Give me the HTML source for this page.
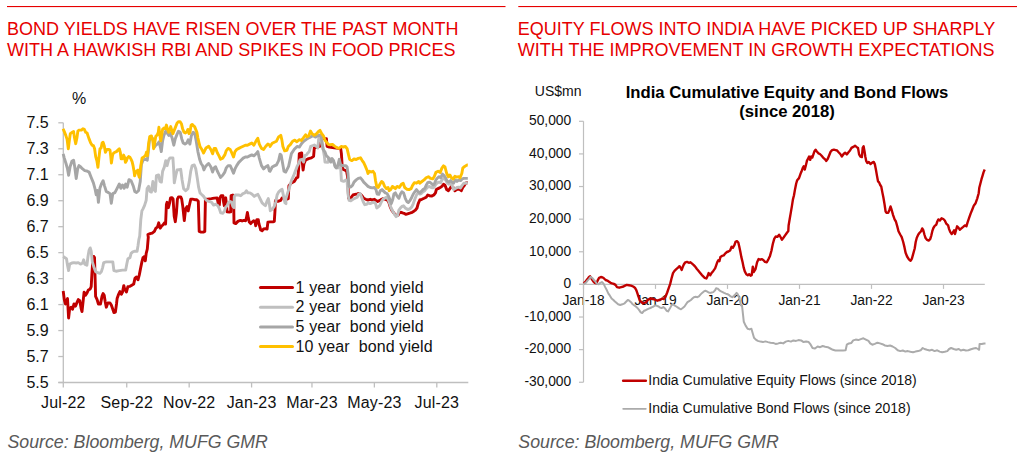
<!DOCTYPE html><html><head><meta charset="utf-8"><title>India bond yields and equity flows</title><style>
html,body{margin:0;padding:0;background:#fff}
body{width:1022px;height:464px;position:relative;overflow:hidden;font-family:"Liberation Sans",sans-serif;color:#111}
.t{position:absolute;white-space:pre;line-height:1;margin-top:-0.8465em}
  .h{font-size:18px;color:#e60000;line-height:21.1px;margin-top:0}
.a16{font-size:16px}
.a14{font-size:14px}
.src{font-size:17.75px;font-style:italic;color:#595959}
.ct{font-size:16.7px;font-weight:bold;color:#000;text-align:center;line-height:19.3px;margin-top:0}

</style></head><body>
<svg width="1022" height="464" viewBox="0 0 1022 464" style="position:absolute;left:0;top:0;z-index:2">
<rect x="7" y="6" width="498.5" height="1.1" fill="#e60000"/>
<rect x="518.3" y="6" width="498.7" height="1.1" fill="#e60000"/>
<g stroke="#bfbfbf" stroke-width="1.3" fill="none">
<path d="M63.3,122.8 V382.5"/>
<path d="M58.3,382.5 H468.3"/>
<path d="M58.3,122.80 H63.3"/>
<path d="M58.3,148.77 H63.3"/>
<path d="M58.3,174.74 H63.3"/>
<path d="M58.3,200.71 H63.3"/>
<path d="M58.3,226.68 H63.3"/>
<path d="M58.3,252.65 H63.3"/>
<path d="M58.3,278.62 H63.3"/>
<path d="M58.3,304.59 H63.3"/>
<path d="M58.3,330.56 H63.3"/>
<path d="M58.3,356.53 H63.3"/>
<path d="M58.3,382.50 H63.3"/>
<path d="M63.30,382.5 v5"/>
<path d="M126.74,382.5 v5"/>
<path d="M189.17,382.5 v5"/>
<path d="M251.59,382.5 v5"/>
<path d="M311.96,382.5 v5"/>
<path d="M374.38,382.5 v5"/>
<path d="M436.80,382.5 v5"/>
</g>
<g fill="none" stroke-linejoin="round" stroke-linecap="butt" stroke-width="2.9">
<path stroke="#c00000" d="M63.2,291.0 L64.3,299.6 L65.4,304.0 L66.5,300.7 L67.5,298.6 L68.6,318.0 L69.7,308.3 L71.2,307.2 L72.5,309.3 L74.0,304.0 L75.5,306.1 L76.8,302.9 L78.3,299.6 L79.8,300.7 L81.1,308.3 L82.0,311.5 L83.3,299.6 L84.1,292.1 L85.4,295.3 L86.9,293.2 L88.4,289.9 L90.2,288.9 L91.2,286.7 L91.9,273.8 L92.8,260.9 L93.8,256.5 L94.5,257.6 L95.1,278.1 L95.6,296.4 L97.1,299.6 L98.4,304.0 L100.5,304.0 L102.0,296.4 L103.1,293.6 L104.2,295.3 L105.2,301.8 L106.3,307.2 L107.8,302.9 L110.0,302.9 L111.3,305.0 L112.8,309.3 L113.9,312.6 L115.4,312.1 L116.5,304.0 L117.1,298.6 L118.6,294.3 L119.9,291.5 L121.4,294.3 L122.5,292.1 L123.8,285.6 L124.6,288.9 L126.4,292.1 L127.9,286.7 L130.0,286.3 L132.2,285.0 L133.7,284.1 L135.0,278.1 L136.5,277.0 L138.0,279.8 L139.3,274.9 L140.8,267.3 L141.9,261.9 L143.0,257.6 L144.5,256.5 L145.3,260.9 L146.2,253.3 L147.3,249.0 L148.3,237.2 L147.9,234.6 L150.1,233.6 L152.2,233.1 L154.4,231.4 L155.9,228.2 L157.4,227.1 L158.7,222.8 L160.2,228.2 L161.7,226.0 L163.0,224.9 L164.5,222.8 L165.6,223.9 L166.4,204.5 L167.1,202.3 L168.4,207.7 L169.5,203.4 L170.5,198.0 L172.0,197.6 L173.1,199.1 L174.2,216.3 L175.3,221.7 L176.4,213.1 L177.4,199.1 L178.5,196.9 L180.7,196.9 L181.7,199.1 L182.8,206.6 L184.3,220.6 L185.6,208.8 L187.1,206.6 L188.2,210.9 L189.3,205.6 L190.8,199.1 L192.5,199.1 L194.7,199.7 L196.8,199.7 L198.3,201.2 L199.2,231.4 L201.1,232.1 L203.3,232.1 L204.8,231.4 L205.4,200.2 L205.7,199.3 L208.6,199.0 L211.4,198.6 L214.3,198.1 L217.1,197.9 L218.3,203.6 L219.3,205.0 L220.0,197.9 L221.1,195.7 L222.9,195.7 L223.6,202.1 L224.3,205.7 L225.0,198.6 L225.7,197.9 L226.4,203.6 L227.1,211.9 L229.3,212.1 L230.7,211.9 L231.1,195.7 L232.9,195.0 L233.6,195.7 L234.0,222.9 L235.7,223.6 L237.9,221.4 L239.3,220.7 L240.7,220.4 L242.1,221.0 L243.6,220.4 L245.7,220.7 L246.4,217.9 L247.4,212.4 L248.3,217.9 L249.3,222.1 L250.7,223.6 L252.1,222.1 L253.6,220.7 L255.0,221.4 L255.7,225.7 L256.9,219.6 L258.3,219.6 L258.9,223.6 L259.7,226.4 L260.7,230.0 L262.1,230.7 L263.6,229.0 L265.7,228.6 L267.1,229.0 L267.9,222.1 L270.0,221.9 L272.9,221.9 L274.3,221.4 L275.0,210.7 L275.4,200.7 L277.9,201.4 L280.7,200.4 L282.1,197.9 L284.3,197.6 L286.0,197.6 L286.4,199.3 L288.3,198.6 L288.9,185.7 L291.4,182.9 L294.3,181.4 L296.4,177.9 L297.9,177.1 L298.6,169.3 L299.3,153.6 L301.7,152.9 L302.1,160.7 L303.1,170.0 L304.0,163.6 L305.7,160.0 L308.6,158.6 L311.4,157.9 L313.6,156.4 L314.3,147.9 L317.1,147.1 L319.7,146.4 L320.7,140.7 L321.4,138.6 L324.3,138.6 L326.4,138.6 L327.1,146.4 L329.3,147.1 L334.3,147.9 L340.7,148.6 L341.4,153.6 L342.1,165.0 L342.9,169.3 L346.0,170.7 L346.5,170.7 L347.6,176.7 L348.6,198.3 L350.2,199.3 L351.4,197.2 L353.0,195.0 L355.1,194.4 L357.3,194.0 L358.8,193.5 L360.5,194.4 L362.2,196.1 L363.7,198.3 L365.9,199.3 L368.0,200.0 L370.2,199.3 L372.3,200.0 L374.5,199.3 L376.0,200.4 L377.7,201.5 L379.9,200.4 L381.6,199.3 L383.1,198.7 L385.3,199.3 L387.4,200.0 L388.9,202.6 L390.2,206.9 L391.7,210.1 L393.2,212.3 L395.0,214.4 L396.7,215.5 L398.2,215.1 L399.3,212.9 L401.0,212.3 L402.5,212.9 L404.0,213.3 L405.7,214.4 L407.5,213.8 L409.0,213.3 L410.5,212.9 L412.2,212.3 L413.9,211.2 L415.4,210.1 L417.0,208.0 L418.2,203.6 L419.8,200.0 L421.9,199.3 L424.1,198.3 L426.2,197.2 L427.7,195.0 L429.4,195.7 L431.6,196.1 L433.8,195.0 L435.5,192.9 L436.3,189.6 L438.1,188.6 L440.2,187.5 L441.9,186.4 L443.5,184.3 L445.0,185.3 L446.7,189.6 L448.4,190.7 L449.9,188.6 L451.4,186.4 L453.2,187.5 L454.9,190.7 L456.6,189.6 L458.5,189.2 L460.0,189.6 L461.3,190.7 L462.8,187.5 L464.4,185.3 L465.6,183.2 L467.2,182.7 L467.8,182.7"/>
<path stroke="#bfbfbf" d="M63.2,256.5 L64.7,257.6 L66.5,258.7 L67.5,265.2 L68.6,270.6 L69.7,264.1 L71.9,263.0 L74.0,262.6 L76.2,263.0 L78.3,262.6 L80.5,264.1 L82.6,263.0 L83.7,259.8 L84.8,264.1 L86.9,265.2 L88.0,256.5 L89.1,250.1 L90.2,247.9 L91.2,251.2 L92.3,261.9 L94.0,267.3 L95.6,271.6 L97.7,272.7 L99.9,273.4 L101.4,271.6 L102.7,267.3 L103.7,262.6 L106.3,261.9 L109.6,261.9 L112.8,261.9 L113.9,270.6 L116.0,271.2 L119.3,270.6 L122.5,270.1 L125.7,270.1 L126.8,264.1 L127.9,258.7 L130.0,257.6 L131.1,253.3 L132.8,251.8 L135.0,251.2 L137.1,251.2 L138.0,245.8 L138.9,239.3 L139.7,236.1 L140.8,219.6 L141.9,210.9 L143.0,208.8 L144.5,205.6 L146.2,200.2 L147.1,188.6 L148.6,186.4 L150.0,191.4 L151.4,192.1 L152.9,181.4 L154.3,190.0 L155.4,191.4 L156.4,175.7 L158.6,175.0 L160.0,181.4 L161.4,182.1 L162.6,171.4 L164.3,167.1 L165.7,160.7 L167.1,165.7 L168.6,160.0 L170.0,157.9 L172.9,157.9 L173.6,168.6 L174.3,182.9 L175.7,175.7 L177.1,170.0 L180.7,169.3 L182.1,180.0 L183.6,188.6 L185.7,190.7 L187.9,188.6 L189.3,181.4 L190.7,171.4 L192.1,165.7 L194.3,165.0 L195.7,168.6 L197.1,177.1 L198.6,187.1 L200.0,192.9 L201.4,194.3 L203.6,196.4 L206.0,200.0 L208.6,201.4 L211.4,202.1 L213.6,205.0 L215.7,204.3 L217.9,205.7 L219.3,208.6 L220.7,212.9 L222.9,213.3 L224.6,210.7 L225.7,207.1 L227.1,205.7 L228.3,202.9 L229.7,201.4 L231.4,202.1 L232.9,206.4 L234.0,207.6 L234.3,196.4 L235.4,195.0 L238.6,195.0 L240.7,195.7 L242.9,193.6 L245.0,192.9 L246.4,190.7 L247.9,192.9 L250.0,192.9 L252.1,194.3 L254.3,196.4 L256.4,195.0 L257.9,194.3 L259.3,197.1 L260.7,200.0 L262.1,202.9 L263.6,204.3 L265.4,205.7 L266.9,201.4 L268.3,198.6 L269.3,203.6 L270.3,210.7 L272.1,209.3 L274.3,206.4 L275.7,202.1 L277.1,195.0 L278.6,192.1 L280.7,190.0 L282.1,189.3 L283.6,196.4 L285.0,202.9 L286.0,203.6 L285.7,199.3 L287.4,193.6 L289.3,187.9 L291.4,180.7 L293.6,175.7 L295.0,172.1 L297.1,166.4 L298.6,163.6 L300.0,160.0 L302.1,159.3 L303.6,162.1 L304.6,155.7 L306.4,155.0 L307.9,152.9 L309.3,151.4 L310.7,146.4 L312.9,145.7 L314.3,145.0 L316.4,146.4 L317.9,147.9 L318.6,139.3 L319.7,135.7 L320.7,137.9 L321.7,143.6 L322.9,147.9 L324.3,155.7 L325.0,162.1 L327.9,162.4 L328.6,157.9 L330.7,159.3 L332.9,160.7 L334.3,163.6 L335.7,167.1 L337.9,167.9 L339.3,165.0 L340.7,167.9 L341.4,180.7 L343.6,181.4 L346.0,180.0 L347.1,181.5 L348.0,194.0 L349.1,200.4 L350.8,200.8 L353.0,199.3 L355.1,198.3 L357.3,197.2 L358.8,194.0 L360.1,193.5 L361.6,197.2 L363.1,201.5 L364.8,204.7 L366.5,204.3 L368.0,203.0 L370.2,203.6 L372.3,202.6 L373.9,202.1 L375.6,203.6 L376.7,208.0 L378.4,206.9 L379.9,205.2 L381.6,201.5 L383.1,199.3 L384.6,198.3 L386.4,197.2 L388.1,199.3 L389.6,203.6 L391.1,208.0 L392.8,211.2 L394.5,214.4 L396.1,216.6 L397.6,215.5 L398.9,210.1 L400.4,208.0 L401.9,206.4 L403.6,205.8 L405.3,208.0 L406.8,209.0 L408.3,209.5 L410.1,208.6 L411.8,206.9 L413.3,203.6 L414.8,199.3 L416.5,195.0 L418.2,192.9 L419.8,194.0 L421.3,193.5 L423.0,191.8 L424.7,190.7 L426.2,188.6 L427.7,187.1 L429.4,186.4 L431.2,187.5 L432.7,187.9 L434.2,187.1 L435.9,184.3 L437.6,182.7 L439.1,182.1 L440.7,182.7 L442.4,178.9 L444.1,178.4 L445.6,179.9 L447.1,182.7 L448.8,184.3 L450.6,183.2 L452.1,185.3 L453.6,189.6 L455.3,188.6 L457.0,187.5 L458.8,187.1 L460.5,187.9 L462.2,185.3 L463.9,183.2 L465.6,183.2 L467.8,182.7"/>
<path stroke="#a6a6a6" d="M63.2,153.8 L64.3,158.1 L66.0,163.5 L67.5,168.9 L68.6,175.3 L70.1,166.7 L71.9,161.3 L73.6,160.2 L74.7,166.7 L76.2,178.6 L77.7,168.9 L79.0,165.6 L80.5,166.7 L82.6,168.9 L84.8,170.6 L86.9,171.0 L89.1,172.1 L91.2,177.5 L93.4,182.9 L94.9,188.3 L96.2,194.7 L97.3,190.4 L98.4,202.3 L99.9,188.3 L101.4,184.0 L103.1,180.7 L104.6,186.1 L106.3,191.5 L108.5,192.6 L110.0,193.6 L111.3,203.3 L112.8,193.6 L114.9,192.6 L117.1,188.3 L119.3,184.0 L120.8,188.3 L122.5,185.0 L124.2,188.3 L125.7,184.0 L127.2,187.2 L129.0,179.6 L131.1,180.7 L133.3,186.1 L134.8,191.5 L136.5,192.6 L138.6,190.4 L140.2,181.8 L141.4,164.6 L143.0,160.2 L145.1,159.2 L147.3,160.2 L148.3,151.6 L149.4,140.9 L150.9,136.5 L152.7,138.7 L154.2,147.3 L155.9,145.2 L157.4,144.1 L159.1,141.9 L160.4,147.3 L161.3,151.6 L162.6,140.9 L163.9,135.5 L165.6,131.2 L167.3,133.3 L168.8,135.5 L170.3,133.3 L172.0,137.6 L173.8,145.2 L175.3,138.7 L177.0,134.4 L178.5,131.2 L180.2,132.2 L181.7,138.7 L183.2,143.0 L185.0,144.1 L186.7,143.0 L188.2,139.8 L189.9,144.1 L191.4,135.5 L193.2,132.2 L194.7,133.3 L196.2,140.9 L197.9,151.6 L199.6,159.2 L201.1,163.5 L202.6,165.6 L203.9,169.9 L205.4,166.7 L207.2,164.6 L208.7,163.5 L210.8,166.7 L212.6,172.1 L214.1,167.8 L215.6,166.7 L217.3,171.0 L219.0,174.3 L220.5,177.5 L222.7,175.3 L224.8,172.1 L226.3,167.8 L228.1,165.6 L230.2,165.6 L231.7,168.9 L233.5,173.2 L235.0,168.9 L236.7,165.6 L238.8,162.4 L241.0,160.2 L243.2,158.1 L245.3,157.0 L247.5,157.0 L249.6,155.9 L251.8,154.9 L253.9,155.9 L256.1,153.8 L257.8,151.6 L259.3,158.1 L261.5,165.6 L263.6,168.9 L265.8,166.7 L267.9,165.6 L269.4,171.0 L270.0,171.3 L272.2,167.0 L274.3,165.9 L276.5,164.9 L278.6,160.6 L280.1,154.1 L281.2,155.2 L282.5,162.7 L284.0,171.3 L285.7,172.1 L288.6,166.4 L291.4,153.6 L294.3,149.3 L297.1,146.4 L299.3,147.1 L300.7,145.0 L302.1,142.9 L303.6,141.4 L306.4,139.3 L309.3,137.6 L312.9,135.7 L315.7,137.1 L317.9,135.7 L319.3,135.0 L321.1,135.7 L322.1,142.1 L323.1,149.3 L325.0,152.1 L326.4,155.7 L327.9,157.1 L329.3,159.3 L330.7,162.1 L332.1,158.6 L333.6,160.7 L335.0,166.4 L336.4,167.9 L337.9,165.0 L339.3,159.3 L340.7,165.0 L342.9,165.7 L346.0,165.7 L347.1,167.0 L348.0,173.5 L348.9,186.4 L350.8,187.1 L352.5,185.3 L354.0,182.1 L356.2,179.9 L358.3,178.4 L360.5,177.8 L362.2,179.9 L363.7,182.1 L365.9,184.3 L368.0,186.4 L370.2,187.5 L372.3,187.9 L374.5,187.5 L376.0,189.6 L377.1,194.0 L378.8,194.4 L380.3,190.7 L382.0,189.6 L383.8,191.4 L385.3,192.9 L387.0,193.5 L388.5,196.1 L390.2,200.4 L391.3,203.6 L392.8,199.3 L393.9,194.0 L395.4,192.9 L397.1,196.1 L398.9,198.3 L400.4,194.0 L401.9,191.8 L403.6,192.9 L405.3,198.3 L406.8,201.5 L408.3,202.6 L410.1,200.4 L411.8,197.2 L413.3,194.0 L414.8,191.8 L416.5,189.6 L418.2,191.8 L419.8,192.9 L421.3,191.4 L423.0,189.6 L424.7,188.6 L426.2,185.3 L427.7,182.7 L429.4,182.1 L431.2,183.2 L432.7,184.9 L434.2,184.3 L435.9,179.9 L437.6,177.8 L439.1,176.7 L440.7,177.8 L442.4,174.1 L444.1,175.6 L445.6,177.8 L447.1,181.0 L448.8,182.1 L450.6,180.6 L452.1,182.1 L453.6,183.2 L455.3,179.9 L457.0,181.5 L458.8,179.9 L460.5,180.6 L462.2,178.9 L463.9,178.4 L465.6,178.4 L467.8,178.4"/>
<path stroke="#ffc000" d="M63.1,128.7 L64.3,131.6 L65.7,135.1 L67.1,139.4 L68.3,148.7 L69.3,140.9 L70.3,133.7 L72.1,132.3 L73.6,131.6 L74.3,136.6 L75.7,143.7 L76.9,138.0 L77.9,130.9 L79.3,130.1 L81.4,130.1 L82.9,128.7 L84.3,129.4 L85.7,132.3 L87.1,133.0 L88.3,136.6 L89.3,139.4 L90.7,143.0 L92.1,145.1 L93.6,145.9 L94.6,148.7 L95.7,156.6 L96.9,160.9 L97.9,167.3 L98.9,158.0 L100.0,148.7 L101.1,148.0 L102.1,143.0 L103.1,142.3 L104.3,145.9 L105.4,152.3 L106.9,149.4 L108.6,149.4 L110.0,150.1 L110.7,155.9 L111.4,163.0 L112.6,155.1 L113.6,153.0 L115.0,152.3 L116.4,151.6 L117.9,150.1 L119.3,148.7 L120.3,152.3 L121.1,158.7 L122.6,158.7 L123.6,155.1 L124.6,157.3 L125.4,162.3 L126.4,160.9 L127.4,158.0 L128.6,156.6 L130.0,157.3 L131.1,159.4 L132.1,161.6 L133.1,165.9 L134.0,170.9 L134.6,175.9 L135.7,172.3 L136.9,170.9 L137.9,170.1 L138.6,175.1 L139.3,177.3 L140.0,172.3 L140.7,166.6 L142.1,158.0 L144.3,156.6 L145.7,155.1 L146.4,152.3 L147.4,155.9 L148.6,143.7 L149.7,136.6 L151.4,135.9 L152.9,140.9 L153.6,148.7 L154.6,143.7 L155.7,136.6 L157.1,135.1 L158.3,132.3 L158.9,127.3 L159.7,133.7 L160.7,140.9 L161.7,135.1 L162.6,129.4 L164.0,128.0 L165.4,128.7 L166.4,125.1 L167.4,128.7 L168.6,132.3 L169.7,130.1 L170.7,126.6 L171.7,130.1 L172.9,133.7 L174.3,130.1 L175.7,126.6 L177.1,123.0 L178.6,121.6 L180.0,121.6 L181.4,123.7 L182.6,128.7 L184.0,132.3 L185.4,133.0 L186.9,131.6 L187.9,129.4 L189.0,133.7 L190.0,132.3 L191.1,125.1 L192.1,124.4 L193.6,125.9 L194.6,126.6 L195.7,129.4 L196.9,132.3 L197.9,138.0 L198.9,142.3 L200.0,146.6 L201.4,148.7 L202.9,151.6 L203.6,153.0 L204.6,150.9 L206.0,148.0 L208.7,146.2 L210.8,149.5 L212.6,153.8 L214.1,148.4 L215.6,148.4 L217.3,152.7 L219.0,155.9 L220.5,159.2 L222.7,158.1 L224.8,154.9 L226.3,150.6 L228.1,148.4 L230.2,149.5 L231.7,152.7 L233.5,157.0 L235.0,151.6 L236.7,149.5 L238.8,148.4 L241.0,147.3 L243.2,146.2 L245.3,145.2 L247.5,145.2 L249.6,144.1 L251.8,143.0 L253.9,145.2 L256.1,140.9 L257.8,138.3 L259.3,144.1 L261.5,148.4 L263.6,149.5 L265.8,146.2 L267.9,144.1 L270.1,145.2 L270.0,146.5 L272.2,143.3 L274.3,142.2 L276.5,141.2 L278.6,136.9 L280.8,135.3 L281.9,140.1 L282.9,146.5 L284.7,150.9 L286.8,150.4 L288.3,146.5 L290.5,144.4 L292.6,141.2 L294.8,140.1 L296.9,141.8 L299.1,139.7 L301.2,140.5 L303.4,137.9 L305.6,134.7 L307.1,136.9 L308.8,135.8 L310.5,131.0 L312.0,133.6 L314.2,135.3 L316.3,134.0 L318.5,131.5 L320.0,130.4 L321.7,133.6 L323.4,135.8 L324.9,140.1 L326.5,142.2 L328.2,144.4 L330.3,144.8 L332.5,144.4 L334.6,146.1 L336.8,147.6 L339.0,148.3 L341.1,146.5 L343.3,147.0 L345.4,146.5 L347.1,148.7 L348.6,155.2 L349.7,159.5 L351.9,160.6 L354.0,159.0 L356.2,159.5 L358.3,158.4 L360.5,157.8 L362.2,160.6 L363.7,162.7 L365.2,165.9 L367.0,170.2 L368.0,173.5 L369.5,171.3 L371.3,172.0 L373.0,171.3 L374.5,173.5 L375.6,181.0 L376.7,186.4 L378.2,187.5 L379.9,184.3 L381.6,181.5 L383.1,182.7 L384.6,186.4 L386.4,188.6 L388.1,187.5 L389.2,190.7 L390.7,189.6 L392.4,186.4 L393.9,187.5 L395.4,188.6 L397.1,186.4 L399.3,187.5 L401.4,184.3 L403.2,183.2 L404.7,187.5 L406.8,189.2 L409.0,189.6 L411.1,188.6 L412.6,185.3 L414.4,182.7 L416.5,183.2 L418.7,181.5 L419.8,183.2 L421.9,181.5 L424.1,179.9 L426.2,177.8 L428.4,176.7 L430.5,178.4 L432.7,178.9 L434.2,176.7 L435.9,172.4 L438.1,171.3 L440.2,172.4 L441.9,168.1 L443.5,165.9 L445.0,167.0 L446.7,173.5 L448.4,176.7 L449.9,175.0 L451.4,177.8 L453.2,178.9 L454.9,176.3 L456.6,177.1 L458.5,176.7 L460.0,177.8 L461.8,173.5 L462.8,168.1 L463.9,167.0 L465.6,165.9 L467.2,164.9 L467.8,164.9"/>
</g>
<g fill="none" stroke-linecap="round" stroke-width="3">
<path stroke="#c00000" d="M260.5,287.4 H292.5"/>
<path stroke="#bfbfbf" d="M260.5,307.2 H292.5"/>
<path stroke="#a6a6a6" d="M260.5,326.9 H292.5"/>
<path stroke="#ffc000" d="M260.5,346.5 H292.5"/>
</g>
<g stroke="#bfbfbf" stroke-width="1.2" fill="none">
<path d="M583.5,121.3 V382.26"/>
<path d="M579.0,284.4 H984.8"/>
<path d="M579.0,121.30 H583.5"/>
<path d="M579.0,153.92 H583.5"/>
<path d="M579.0,186.54 H583.5"/>
<path d="M579.0,219.16 H583.5"/>
<path d="M579.0,251.78 H583.5"/>
<path d="M579.0,284.40 H583.5"/>
<path d="M579.0,317.02 H583.5"/>
<path d="M579.0,349.64 H583.5"/>
<path d="M579.0,382.26 H583.5"/>
<path d="M583.50,284.4 v4.5"/>
<path d="M655.50,284.4 v4.5"/>
<path d="M727.50,284.4 v4.5"/>
<path d="M799.50,284.4 v4.5"/>
<path d="M871.50,284.4 v4.5"/>
<path d="M943.50,284.4 v4.5"/>
</g>
<g fill="none" stroke-linejoin="round" stroke-linecap="butt">
<path stroke="#c00000" stroke-width="2.4" d="M583.6,283.4 L585.8,281.3 L587.5,279.1 L589.0,277.0 L590.1,276.3 L591.8,279.1 L593.3,281.3 L594.8,282.8 L596.5,283.4 L597.6,280.6 L599.1,277.8 L600.9,277.0 L602.6,277.4 L604.1,278.5 L605.6,280.0 L607.3,280.6 L609.0,281.7 L610.6,282.8 L612.1,283.4 L613.8,283.9 L615.5,284.9 L617.0,287.1 L619.2,287.7 L621.3,287.1 L623.5,286.5 L625.0,285.6 L626.7,284.9 L628.9,285.2 L631.0,285.6 L633.2,286.5 L634.9,287.7 L636.4,290.3 L637.5,293.6 L638.6,296.8 L639.6,300.0 L641.4,302.2 L642.9,303.3 L644.4,302.8 L646.1,302.2 L647.8,300.0 L649.3,299.0 L650.8,298.5 L652.6,299.0 L654.3,299.4 L655.8,300.0 L657.3,300.7 L659.0,300.0 L660.8,299.4 L662.3,298.5 L663.8,299.0 L665.5,296.8 L667.2,292.5 L668.7,288.2 L670.2,283.9 L671.5,278.5 L673.0,273.1 L674.5,270.9 L676.3,269.2 L678.0,267.7 L679.5,266.2 L680.6,267.7 L681.7,269.9 L682.7,267.1 L683.8,264.5 L685.3,262.3 L687.0,261.9 L688.8,262.8 L690.3,262.3 L691.8,263.4 L693.5,264.9 L695.2,266.6 L696.7,268.8 L698.2,270.5 L700.0,272.7 L701.7,274.8 L703.2,276.3 L704.7,277.8 L706.4,278.5 L707.5,276.3 L708.6,273.1 L710.3,275.2 L711.8,272.7 L713.3,270.9 L715.1,268.4 L716.1,265.6 L717.2,262.3 L718.3,260.2 L719.4,261.2 L720.4,256.9 L722.0,255.9 L723.7,255.4 L725.4,253.3 L726.9,252.0 L728.4,251.5 L730.1,250.5 L731.6,246.8 L732.9,247.7 L734.4,245.1 L735.5,241.9 L737.0,241.2 L738.3,242.5 L739.2,246.2 L740.3,251.5 L741.3,256.9 L742.6,262.3 L743.7,267.7 L744.8,271.4 L746.3,274.2 L747.8,275.2 L749.1,274.2 L750.6,275.7 L751.7,275.2 L752.8,266.6 L753.8,272.0 L755.6,268.8 L757.1,262.3 L758.6,259.1 L760.3,259.7 L762.0,259.1 L763.5,260.2 L765.0,261.9 L766.8,262.3 L768.5,259.1 L770.0,255.9 L771.5,250.5 L772.8,244.0 L774.3,238.6 L775.8,236.5 L777.5,236.9 L779.1,234.7 L780.8,237.5 L781.9,239.7 L783.6,237.5 L785.1,235.4 L786.6,233.2 L788.3,231.1 L788.6,225.5 L789.7,219.0 L790.8,212.6 L791.9,206.1 L792.9,199.6 L794.0,195.3 L795.1,188.9 L796.2,183.5 L797.2,180.2 L799.0,178.1 L800.5,173.8 L801.5,171.6 L802.6,168.4 L803.7,166.2 L804.8,169.5 L805.9,165.2 L806.9,160.9 L808.0,158.7 L809.1,156.5 L810.2,159.8 L811.2,156.5 L812.3,157.6 L813.4,154.4 L814.5,151.2 L815.6,149.7 L816.6,151.2 L818.4,153.3 L819.9,154.0 L821.4,155.5 L823.1,157.6 L824.8,159.1 L826.3,160.9 L827.8,158.7 L829.1,155.5 L830.6,151.8 L832.1,150.1 L833.9,149.7 L835.6,150.1 L837.1,150.5 L838.6,152.2 L840.3,154.0 L841.8,156.5 L843.6,154.0 L845.1,152.7 L846.8,154.4 L848.5,152.2 L850.0,150.5 L851.5,147.9 L853.3,146.9 L855.0,145.8 L856.5,146.9 L858.0,147.9 L859.1,154.4 L860.4,156.5 L861.9,157.0 L862.7,147.9 L863.6,146.2 L864.5,151.2 L865.3,156.5 L866.2,160.9 L867.3,163.0 L868.8,161.9 L870.5,164.1 L872.2,162.6 L873.7,161.9 L874.8,164.1 L875.9,169.5 L877.0,175.9 L878.0,181.3 L879.1,182.4 L880.2,185.0 L881.3,186.7 L882.3,192.1 L883.4,197.5 L884.5,204.0 L885.6,211.5 L886.7,212.9 L888.2,212.9 L889.5,209.7 L890.5,206.5 L891.6,209.7 L893.1,215.1 L894.6,219.4 L895.9,221.5 L897.4,226.9 L898.5,231.2 L900.2,234.5 L901.7,237.1 L903.2,242.0 L904.5,247.4 L905.6,252.8 L907.1,256.5 L908.9,259.3 L910.6,260.8 L911.9,258.6 L913.2,253.9 L914.7,248.5 L915.7,242.0 L916.8,237.7 L918.3,234.5 L919.6,232.8 L921.1,231.2 L922.2,228.4 L923.3,230.2 L924.4,234.5 L925.4,237.7 L927.0,239.9 L928.7,240.5 L930.2,239.2 L931.3,235.6 L932.3,231.2 L933.4,228.0 L934.7,225.9 L936.2,224.8 L937.3,221.5 L938.4,219.4 L939.9,220.5 L941.6,218.3 L943.3,219.0 L944.8,220.5 L946.3,223.7 L948.1,225.4 L949.1,229.1 L950.2,231.9 L951.7,234.0 L953.0,232.3 L954.1,230.2 L955.0,234.0 L956.0,230.2 L957.1,226.3 L958.4,227.6 L959.9,229.7 L961.4,228.4 L963.2,226.9 L964.9,225.4 L966.4,226.3 L967.5,222.6 L969.2,217.7 L970.7,213.4 L972.2,209.7 L973.9,205.4 L975.6,203.2 L977.2,198.6 L978.7,193.2 L979.3,187.8 L980.4,183.5 L981.5,179.2 L982.5,175.9 L983.6,172.1 L984.7,169.5"/>
<path stroke="#ababab" stroke-width="2" d="M583.6,283.9 L585.8,282.8 L587.5,280.6 L589.0,279.1 L590.5,277.0 L592.2,277.8 L594.0,280.0 L595.5,281.7 L597.0,283.9 L598.7,284.3 L600.4,282.8 L601.9,282.1 L603.4,283.4 L605.2,287.1 L606.9,290.3 L608.4,293.6 L609.9,295.7 L611.6,298.5 L613.4,300.0 L614.9,301.5 L616.4,302.8 L618.1,304.3 L620.2,305.0 L622.4,304.3 L624.6,303.3 L626.3,301.5 L627.8,300.0 L629.3,300.7 L631.0,302.2 L632.7,304.3 L634.3,305.4 L635.8,306.5 L637.5,308.0 L639.2,310.2 L640.7,312.3 L642.2,313.0 L644.0,310.8 L645.7,310.2 L647.2,309.3 L648.7,308.6 L650.4,308.0 L652.1,307.1 L653.6,306.5 L655.2,305.4 L656.9,305.8 L658.6,306.5 L660.1,307.6 L661.6,308.0 L663.3,307.1 L665.1,308.6 L666.6,310.8 L668.1,311.4 L669.8,308.6 L671.5,305.4 L673.0,304.3 L674.5,305.4 L676.3,306.5 L678.0,307.6 L679.5,308.6 L681.0,309.3 L682.7,308.0 L684.5,306.5 L686.0,304.3 L687.5,302.2 L689.2,301.1 L690.9,300.0 L692.4,298.5 L693.9,297.2 L695.7,296.8 L697.4,297.2 L698.9,296.4 L700.4,294.6 L702.1,292.9 L703.9,291.4 L705.4,290.8 L706.9,291.4 L708.6,292.5 L710.3,292.9 L711.8,292.5 L713.3,292.1 L715.1,290.3 L716.1,288.2 L717.6,288.6 L719.4,290.3 L721.1,291.4 L722.6,292.1 L724.1,292.9 L725.8,293.6 L727.6,294.2 L729.1,295.1 L730.6,296.4 L732.3,297.2 L734.0,295.7 L735.5,294.2 L736.6,292.9 L737.7,294.2 L738.8,296.8 L739.8,300.0 L740.9,305.4 L742.0,305.3 L743.1,315.4 L743.8,321.8 L745.6,325.6 L747.6,328.7 L749.7,329.4 L751.4,328.7 L752.7,333.2 L754.0,337.8 L755.8,339.6 L757.8,340.9 L760.4,341.6 L762.9,342.1 L765.4,341.4 L768.0,342.1 L770.5,342.7 L773.1,342.9 L775.6,343.9 L778.2,343.4 L780.7,342.7 L783.2,343.4 L785.8,341.6 L788.3,340.9 L790.9,341.6 L793.4,340.4 L796.0,340.9 L798.5,340.1 L801.1,340.4 L803.6,342.1 L806.1,341.6 L808.7,342.1 L810.7,344.7 L812.5,348.0 L815.0,348.5 L817.6,346.5 L820.1,347.2 L822.7,346.0 L825.2,346.7 L827.8,347.2 L830.3,348.5 L832.9,349.8 L835.4,350.5 L837.9,350.5 L840.5,350.5 L843.0,350.5 L845.6,350.3 L846.8,344.7 L848.9,343.4 L851.4,342.9 L853.2,340.4 L855.7,339.6 L858.3,340.1 L860.8,339.1 L863.4,338.3 L865.9,339.6 L868.5,340.9 L870.2,343.4 L872.3,344.7 L874.8,343.9 L877.4,342.7 L879.9,343.4 L882.5,344.2 L885.0,345.5 L887.5,346.0 L890.1,345.5 L892.6,346.5 L895.2,348.0 L897.7,350.3 L900.3,351.1 L902.8,350.5 L905.4,351.6 L907.9,351.1 L910.4,351.8 L913.0,352.3 L915.5,351.6 L918.1,351.1 L920.6,350.3 L922.7,348.0 L924.4,349.0 L927.0,349.8 L929.5,350.5 L932.1,349.8 L934.6,351.1 L937.2,350.3 L939.7,351.6 L942.2,352.3 L944.8,351.8 L947.3,351.1 L949.1,349.0 L951.1,348.0 L953.7,349.0 L956.2,349.8 L958.8,349.0 L960.8,350.5 L963.4,349.8 L965.9,350.5 L968.4,350.3 L971.0,349.3 L973.5,348.5 L976.1,348.0 L977.9,349.0 L979.1,349.8 L979.6,343.9 L981.7,343.9 L984.2,343.4 L985.5,343.4"/>
</g>
<g fill="none" stroke-linecap="round">
<path stroke="#c00000" stroke-width="2.6" d="M623.2,380.8 H645.8"/>
<path stroke="#ababab" stroke-width="1.8" d="M623.2,408.8 H645.8"/>
</g>
</svg>
<div class="t h" style="left:7px;top:18.65px">BOND YIELDS HAVE RISEN OVER THE PAST MONTH
WITH A HAWKISH RBI AND SPIKES IN FOOD PRICES</div>
<div class="t h" style="left:517.8px;top:18.65px">EQUITY FLOWS INTO INDIA HAVE PICKED UP SHARPLY
WITH THE IMPROVEMENT IN GROWTH EXPECTATIONS</div>
<div class="t a16" style="top:104.6px;left:72px;">%</div>
<div class="t a16" style="top:128.5px;left:48.7px;transform:translateX(-100%);">7.5</div>
<div class="t a16" style="top:154.47px;left:48.7px;transform:translateX(-100%);">7.3</div>
<div class="t a16" style="top:180.44px;left:48.7px;transform:translateX(-100%);">7.1</div>
<div class="t a16" style="top:206.41px;left:48.7px;transform:translateX(-100%);">6.9</div>
<div class="t a16" style="top:232.38px;left:48.7px;transform:translateX(-100%);">6.7</div>
<div class="t a16" style="top:258.35px;left:48.7px;transform:translateX(-100%);">6.5</div>
<div class="t a16" style="top:284.32px;left:48.7px;transform:translateX(-100%);">6.3</div>
<div class="t a16" style="top:310.29px;left:48.7px;transform:translateX(-100%);">6.1</div>
<div class="t a16" style="top:336.26px;left:48.7px;transform:translateX(-100%);">5.9</div>
<div class="t a16" style="top:362.23px;left:48.7px;transform:translateX(-100%);">5.7</div>
<div class="t a16" style="top:388.2px;left:48.7px;transform:translateX(-100%);">5.5</div>
<div class="t a16" style="top:408.9px;left:63.3px;transform:translateX(-50%);letter-spacing:0.13px">Jul-22</div>
<div class="t a16" style="top:408.9px;left:126.7446px;transform:translateX(-50%);letter-spacing:0.13px">Sep-22</div>
<div class="t a16" style="top:408.9px;left:189.16590000000002px;transform:translateX(-50%);letter-spacing:0.13px">Nov-22</div>
<div class="t a16" style="top:408.9px;left:251.5872px;transform:translateX(-50%);letter-spacing:0.13px">Jan-23</div>
<div class="t a16" style="top:408.9px;left:311.9619px;transform:translateX(-50%);letter-spacing:0.13px">Mar-23</div>
<div class="t a16" style="top:408.9px;left:374.38320000000004px;transform:translateX(-50%);letter-spacing:0.13px">May-23</div>
<div class="t a16" style="top:408.9px;left:436.8045000000001px;transform:translateX(-50%);letter-spacing:0.13px">Jul-23</div>
<div class="t a16" style="top:293.2px;left:295.6px;letter-spacing:0.1px">1 year  bond yield</div>
<div class="t a16" style="top:313.0px;left:295.6px;letter-spacing:0.1px">2 year  bond yield</div>
<div class="t a16" style="top:332.7px;left:295.6px;letter-spacing:0.1px">5 year  bond yield</div>
<div class="t a16" style="top:352.3px;left:295.6px;letter-spacing:0.1px">10 year  bond yield</div>
<div class="t src" style="top:449.0px;left:7.5px;">Source: Bloomberg, MUFG GMR</div>
<div class="t a14" style="top:95.9px;left:534.8px;">US$mn</div>
<div class="t a14" style="top:125.7px;left:571.2px;transform:translateX(-100%);font-size:13.8px">50,000</div>
<div class="t a14" style="top:158.32px;left:571.2px;transform:translateX(-100%);font-size:13.8px">40,000</div>
<div class="t a14" style="top:190.94px;left:571.2px;transform:translateX(-100%);font-size:13.8px">30,000</div>
<div class="t a14" style="top:223.56px;left:571.2px;transform:translateX(-100%);font-size:13.8px">20,000</div>
<div class="t a14" style="top:256.18px;left:571.2px;transform:translateX(-100%);font-size:13.8px">10,000</div>
<div class="t a14" style="top:288.8px;left:571.2px;transform:translateX(-100%);font-size:13.8px">0</div>
<div class="t a14" style="top:321.42px;left:571.2px;transform:translateX(-100%);font-size:13.8px">-10,000</div>
<div class="t a14" style="top:354.04px;left:571.2px;transform:translateX(-100%);font-size:13.8px">-20,000</div>
<div class="t a14" style="top:386.66px;left:571.2px;transform:translateX(-100%);font-size:13.8px">-30,000</div>
<div class="t a14" style="top:305.3px;left:583.5px;transform:translateX(-50%);font-size:13.8px">Jan-18</div>
<div class="t a14" style="top:305.3px;left:655.5px;transform:translateX(-50%);font-size:13.8px">Jan-19</div>
<div class="t a14" style="top:305.3px;left:727.5px;transform:translateX(-50%);font-size:13.8px">Jan-20</div>
<div class="t a14" style="top:305.3px;left:799.5px;transform:translateX(-50%);font-size:13.8px">Jan-21</div>
<div class="t a14" style="top:305.3px;left:871.5px;transform:translateX(-50%);font-size:13.8px">Jan-22</div>
<div class="t a14" style="top:305.3px;left:943.5px;transform:translateX(-50%);font-size:13.8px">Jan-23</div>
<div class="t ct" style="left:587px;width:400px;top:82.5px">India Cumulative Equity and Bond Flows
(since 2018)</div>
<div class="t a14" style="top:384.9px;left:648.3px;">India Cumulative Equity Flows (since 2018)</div>
<div class="t a14" style="top:412.9px;left:648.3px;">India Cumulative Bond Flows (since 2018)</div>
<div class="t src" style="top:448.6px;left:518.3px;">Source: Bloomberg, MUFG GMR</div>
</body></html>
